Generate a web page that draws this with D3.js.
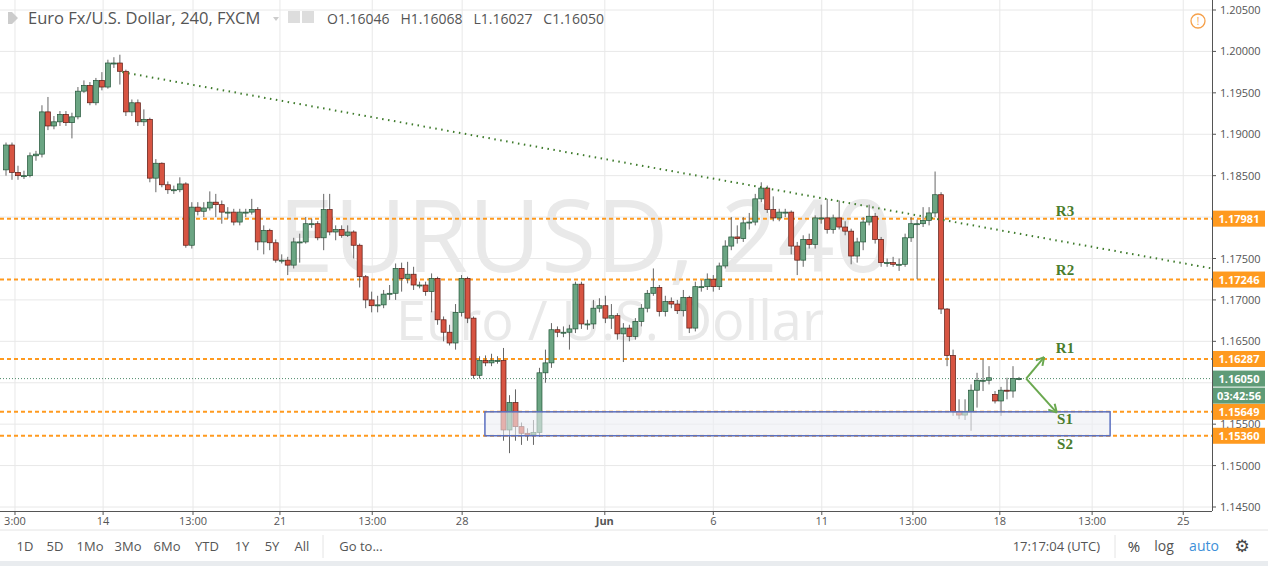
<!DOCTYPE html>
<html>
<head>
<meta charset="utf-8">
<script src="https://cdn.jsdelivr.net/npm/d3@7"></script>
<style>
  body { margin: 0; background: #fff; font-family: "Open Sans", "DejaVu Sans", sans-serif; }
  svg text { font-family: "Open Sans", "DejaVu Sans", sans-serif; }
</style>
</head>
<body>
<svg id="chart" width="1268" height="566"></svg>
<script>
/* data: candles in 1e-4 price units: [open, close, high, low] */
var candles = [
 [11857,11887,11890,11850],[11887,11854,11890,11845],[11854,11850,11862,11845],[11850,11850,11856,11846],
 [11850,11874,11878,11848],[11874,11876,11880,11868],[11876,11927,11935,11872],[11927,11910,11945,11905],
 [11910,11915,11922,11906],[11915,11924,11928,11910],[11924,11914,11928,11910],[11914,11921,11926,11895],
 [11921,11952,11957,11918],[11952,11959,11965,11950],[11959,11938,11963,11935],[11938,11965,11968,11935],
 [11965,11957,11975,11953],[11957,11986,11990,11955],[11986,11986,11993,11980],[11986,11976,11996,11960],
 [11976,11927,11978,11922],[11927,11938,11942,11922],[11938,11915,11942,11910],[11915,11918,11930,11910],
 [11918,11847,11920,11842],[11847,11865,11870,11830],[11865,11839,11866,11836],[11839,11833,11843,11828],
 [11833,11833,11838,11828],[11833,11840,11848,11830],[11840,11766,11842,11763],[11766,11812,11818,11762],
 [11812,11807,11818,11802],[11807,11811,11818,11800],[11811,11818,11831,11808],[11818,11815,11828,11800],
 [11815,11806,11820,11792],[11806,11806,11812,11798],[11806,11794,11810,11790],[11794,11806,11810,11790],
 [11806,11806,11810,11800],[11806,11809,11822,11803],[11809,11770,11812,11760],[11770,11784,11790,11755],
 [11784,11769,11786,11760],[11769,11748,11773,11745],[11748,11748,11755,11744],[11748,11742,11752,11730],
 [11742,11770,11775,11738],[11770,11770,11780,11745],[11770,11792,11800,11768],[11792,11792,11798,11787],
 [11792,11775,11795,11772],[11775,11809,11828,11760],[11809,11782,11828,11778],[11782,11785,11790,11772],
 [11785,11778,11790,11775],[11778,11782,11790,11776],[11782,11766,11784,11750],[11766,11728,11768,11715],
 [11728,11700,11730,11690],[11700,11693,11710,11685],[11693,11694,11705,11685],[11694,11707,11712,11690],
 [11707,11708,11718,11700],[11708,11738,11744,11700],[11738,11726,11745,11710],[11726,11731,11746,11720],
 [11731,11718,11740,11712],[11718,11718,11722,11714],[11718,11710,11722,11705],[11710,11726,11732,11685],
 [11726,11676,11728,11670],[11676,11661,11680,11650],[11661,11648,11670,11645],[11648,11685,11695,11640],
 [11685,11726,11730,11680],[11726,11678,11728,11672],[11678,11609,11680,11605],[11609,11627,11632,11605],
 [11627,11624,11633,11620],[11624,11627,11635,11620],[11627,11627,11632,11623],[11627,11543,11642,11530],
 [11543,11576,11585,11515],[11576,11547,11592,11530],[11547,11539,11552,11525],[11539,11537,11545,11530],
 [11537,11540,11555,11525],[11540,11612,11618,11535],[11612,11624,11640,11600],[11624,11664,11672,11618],
 [11664,11661,11668,11655],[11661,11661,11668,11655],[11661,11665,11670,11640],[11665,11719,11722,11660],
 [11719,11671,11722,11665],[11671,11671,11676,11664],[11671,11690,11700,11665],[11690,11693,11702,11685],
 [11693,11678,11705,11672],[11678,11681,11695,11665],[11681,11659,11684,11652],[11659,11666,11672,11625],
 [11666,11656,11670,11650],[11656,11674,11678,11652],[11674,11690,11695,11668],[11690,11708,11712,11685],
 [11708,11715,11738,11705],[11715,11686,11718,11680],[11686,11698,11705,11680],[11698,11695,11703,11690],
 [11695,11687,11700,11683],[11687,11703,11712,11680],[11703,11666,11705,11660],[11666,11716,11722,11662],
 [11716,11716,11724,11710],[11716,11725,11732,11712],[11725,11716,11730,11710],[11716,11741,11745,11712],
 [11741,11765,11772,11738],[11765,11776,11800,11760],[11776,11774,11790,11768],[11774,11793,11800,11770],
 [11793,11794,11805,11785],[11794,11822,11828,11790],[11822,11835,11842,11818],[11835,11809,11838,11805],
 [11809,11799,11825,11795],[11799,11806,11810,11795],[11806,11806,11810,11800],[11806,11765,11808,11755],
 [11765,11748,11770,11730],[11748,11773,11778,11740],[11773,11767,11780,11762],[11767,11799,11802,11762],
 [11799,11799,11815,11792],[11799,11785,11822,11780],[11785,11799,11803,11780],[11799,11788,11820,11785],
 [11788,11783,11795,11778],[11783,11753,11786,11743],[11753,11770,11775,11745],[11770,11794,11800,11760],
 [11794,11801,11815,11790],[11801,11773,11805,11768],[11773,11745,11776,11740],[11745,11745,11750,11740],
 [11745,11743,11752,11740],[11743,11743,11750,11735],[11743,11775,11780,11740],[11775,11792,11800,11770],
 [11792,11792,11797,11725],[11792,11796,11812,11788],[11796,11805,11812,11790],[11805,11827,11855,11800],
 [11827,11689,11830,11683],[11689,11633,11690,11620],[11633,11565,11640,11560],[11565,11561,11580,11556],
 [11561,11565,11580,11555],[11565,11591,11598,11542],[11591,11603,11612,11570],[11603,11603,11628,11590],
 [11603,11606,11620,11598],[11586,11578,11590,11575],[11578,11591,11595,11560],[11591,11590,11606,11580],
 [11590,11605,11620,11582],[11605,11605,11607,11603]
];

var priceTicks = [1.145, 1.150, 1.155, 1.160, 1.165, 1.170, 1.175, 1.180, 1.185, 1.190, 1.195, 1.200, 1.205];
var timeTicks = [[1.5,"3:00"],[16.2,"14"],[31.2,"13:00"],[45.7,"21"],[61.1,"13:00"],[76.1,"28"],[99.9,"Jun"],
                 [118,"6"],[136.1,"11"],[151.3,"13:00"],[165.8,"18"],[181.2,"13:00"],[196.4,"25"]];

var levelNames = ["R3", "R2", "R1", "S1", "S2"];
var levelValues = [1.17981, 1.17246, 1.16287, 1.15649, 1.15360];
var lastPrice = 1.16050;
var trendLine = [[19.4, 1.1975], [201.2, 1.1738]];
var zoneIdx = [79.9, 184.2];
var arrowPts = [[170.2, 1.1605], [173.2, 1.1631], [175.3, 1.1564]];

var svg = d3.select("#chart");
var plotW = 1212, plotH = 511;

var x = d3.scaleLinear().domain([0, candles.length - 1]).range([6, 1019]);
var y = d3.scaleLinear().domain([1.145, 1.205]).range([507, 10]);
var p = v => y(v / 10000);

svg.append("defs").append("clipPath").attr("id", "plot")
  .append("rect").attr("x", 0).attr("y", 0).attr("width", plotW).attr("height", plotH);

svg.append("rect").attr("x", 0).attr("y", 0).attr("width", 1268).attr("height", 566).attr("fill", "#fff");

var g = svg.append("g").attr("clip-path", "url(#plot)");

// grid
g.selectAll(".hg").data(priceTicks).join("line")
  .attr("x1", 0).attr("x2", plotW).attr("y1", d => y(d)).attr("y2", d => y(d))
  .attr("stroke", "#e8e8e8");
g.selectAll(".vg").data(timeTicks).join("line")
  .attr("x1", d => x(d[0])).attr("x2", d => x(d[0])).attr("y1", 0).attr("y2", plotH)
  .attr("stroke", "#e8e8e8");

// watermark
g.append("text").attr("x", 585).attr("y", 272).attr("text-anchor", "middle")
  .style("font-size", "100px").attr("fill", "#e9e9e9").text("EURUSD, 240");
g.append("text").attr("x", 610).attr("y", 340).attr("text-anchor", "middle")
  .style("font-size", "54px").attr("fill", "#e9e9e9").text("Euro / U.S. Dollar");

// levels
g.selectAll(".lvl").data(levelValues).join("line")
  .attr("x1", 0).attr("x2", plotW).attr("y1", d => y(d)).attr("y2", d => y(d))
  .attr("stroke", "#ff9a1f").attr("stroke-width", 2).attr("stroke-dasharray", "4,3");

// last price line
g.append("line").attr("x1", 0).attr("x2", plotW).attr("y1", y(lastPrice)).attr("y2", y(lastPrice))
  .attr("stroke", "#4f8a6a").attr("stroke-dasharray", "1,2");

// candles
var c = g.selectAll(".c").data(candles).join("g");
c.append("line")
  .attr("x1", (d, i) => x(i)).attr("x2", (d, i) => x(i))
  .attr("y1", d => p(d[2])).attr("y2", d => p(d[3]))
  .attr("stroke", "#666");
c.append("rect")
  .attr("x", (d, i) => x(i) - 2.5).attr("width", 5)
  .attr("y", d => p(Math.max(d[0], d[1])))
  .attr("height", d => Math.max(1, Math.abs(p(d[0]) - p(d[1]))))
  .attr("fill", d => d[1] >= d[0] ? "#6ba583" : "#d75442")
  .attr("stroke", d => d[1] >= d[0] ? "#225437" : "#5b1a13").attr("stroke-width", 0.7);

// trend line
g.append("line")
  .attr("x1", x(trendLine[0][0])).attr("y1", y(trendLine[0][1]))
  .attr("x2", x(trendLine[1][0])).attr("y2", y(trendLine[1][1]))
  .attr("stroke", "#3d7a2a").attr("stroke-width", 2).attr("stroke-dasharray", "1.5,4.5");

// support zone
g.append("rect")
  .attr("x", x(zoneIdx[0])).attr("width", x(zoneIdx[1]) - x(zoneIdx[0]))
  .attr("y", y(levelValues[3])).attr("height", y(levelValues[4]) - y(levelValues[3]))
  .attr("fill", "rgba(236,238,244,0.6)").attr("stroke", "#5a6fc0").attr("stroke-width", 1.5);

// arrows
var ac = "#6aa84f";
[arrowPts[1], arrowPts[2]].forEach(function(t) {
  var x0 = x(arrowPts[0][0]), y0 = y(arrowPts[0][1]), x1 = x(t[0]), y1 = y(t[1]);
  g.append("line").attr("x1", x0).attr("y1", y0).attr("x2", x1).attr("y2", y1)
    .attr("stroke", ac).attr("stroke-width", 2);
  var a = Math.atan2(y1 - y0, x1 - x0);
  [-0.5, 0.5].forEach(function(da) {
    g.append("line").attr("x1", x1).attr("y1", y1)
      .attr("x2", x1 - 9 * Math.cos(a + da)).attr("y2", y1 - 9 * Math.sin(a + da))
      .attr("stroke", ac).attr("stroke-width", 2);
  });
});

// level labels
var labelY = [211, 270, 348, 419, 444];
levelNames.forEach(function(n, i) {
  g.append("text").attr("x", 1065).attr("y", labelY[i] + 5).attr("text-anchor", "middle")
    .style("font-family", "'Liberation Serif', serif").style("font-weight", "bold")
    .style("font-size", "15px").attr("fill", "#4a7d2c").text(n);
});

// right axis
svg.append("line").attr("x1", plotW + 0.5).attr("x2", plotW + 0.5).attr("y1", 0).attr("y2", plotH)
  .attr("stroke", "#555");
svg.selectAll(".pt").data(priceTicks).join("g").each(function(d) {
  var s = d3.select(this);
  s.append("line").attr("x1", plotW).attr("x2", plotW + 4).attr("y1", y(d)).attr("y2", y(d)).attr("stroke", "#555");
  if (d === 1.160) return; // hidden behind the last price tag
  s.append("text").attr("x", 1220).attr("y", y(d) + 4).style("font-size", "11px").attr("fill", "#555")
    .text(d.toFixed(5));
});
function tag(v, txt, fill, dy) {
  svg.append("rect").attr("x", 1213).attr("y", y(v) - 8 + (dy || 0)).attr("width", 52).attr("height", 16).attr("fill", fill);
  svg.append("text").attr("x", 1239).attr("y", y(v) + 4 + (dy || 0)).attr("text-anchor", "middle")
    .style("font-size", "11px").style("font-weight", "bold").attr("fill", "#fff").text(txt);
}
levelValues.forEach(v => tag(v, v.toFixed(5), "#ff9a1f"));
tag(lastPrice, lastPrice.toFixed(5), "#5f9b77");
tag(lastPrice, "03:42:56", "#5f9b77", 17);

// time axis
svg.append("line").attr("x1", 0).attr("x2", plotW).attr("y1", plotH + 0.5).attr("y2", plotH + 0.5).attr("stroke", "#555");
svg.selectAll(".tt").data(timeTicks).join("g").each(function(d) {
  var s = d3.select(this);
  s.append("line").attr("x1", x(d[0])).attr("x2", x(d[0])).attr("y1", plotH).attr("y2", plotH + 4).attr("stroke", "#555");
  s.append("text").attr("x", x(d[0])).attr("y", plotH + 14).attr("text-anchor", "middle")
    .style("font-size", "11px").style("font-weight", d[1] === "Jun" ? "bold" : "normal").attr("fill", "#555").text(d[1]);
});

// toolbar
svg.append("line").attr("x1", 0).attr("x2", 1268).attr("y1", 530).attr("y2", 530).attr("stroke", "#e4e4e4");
svg.append("rect").attr("x", 0).attr("y", 561).attr("width", 1268).attr("height", 5).attr("fill", "#e9ecef");
var tb = [["1D", 25], ["5D", 55], ["1Mo", 90], ["3Mo", 128], ["6Mo", 167], ["YTD", 207], ["1Y", 242], ["5Y", 272], ["All", 302], ["Go to...", 361]];
tb.forEach(function(t) {
  svg.append("text").attr("x", t[1]).attr("y", 551).attr("text-anchor", "middle")
    .style("font-size", "13px").attr("fill", "#555").text(t[0]);
});
svg.append("line").attr("x1", 323).attr("x2", 323).attr("y1", 535).attr("y2", 558).attr("stroke", "#e4e4e4");
svg.append("text").attr("x", 1100).attr("y", 551).attr("text-anchor", "end").style("font-size", "13px").attr("fill", "#555").text("17:17:04 (UTC)");
svg.append("line").attr("x1", 1115).attr("x2", 1115).attr("y1", 535).attr("y2", 558).attr("stroke", "#e4e4e4");
svg.append("text").attr("x", 1134).attr("y", 552).attr("text-anchor", "middle").style("font-size", "15px").attr("fill", "#444").text("%");
svg.append("text").attr("x", 1164).attr("y", 551).attr("text-anchor", "middle").style("font-size", "14px").attr("fill", "#555").text("log");
svg.append("text").attr("x", 1204).attr("y", 551).attr("text-anchor", "middle").style("font-size", "14px").attr("fill", "#3d8fd8").text("auto");
svg.append("text").attr("x", 1242).attr("y", 552).attr("text-anchor", "middle").style("font-size", "17px").attr("fill", "#444").text("⚙");

// header
svg.append("path").attr("d", "M8,12 h4 v12 h-4z M12,12 l6,6 l-6,6z").attr("fill", "#ccc");
svg.append("text").attr("x", 28).attr("y", 24).style("font-size", "16.5px").attr("fill", "#555")
  .text("Euro Fx/U.S. Dollar, 240, FXCM");
svg.append("path").attr("d", "M273,17 l3,4 l3,-4z").attr("fill", "#ccc");
svg.append("rect").attr("x", 288).attr("y", 11).attr("width", 12).attr("height", 12).attr("fill", "#ddd");
svg.append("rect").attr("x", 302).attr("y", 11).attr("width", 12).attr("height", 12).attr("fill", "#ddd");
svg.append("text").attr("x", 327).attr("y", 24).style("font-size", "14px").attr("fill", "#555")
  .text("O1.16046   H1.16068   L1.16027   C1.16050").attr("xml:space", "preserve");
svg.append("circle").attr("cx", 1198).attr("cy", 21).attr("r", 7).attr("fill", "none").attr("stroke", "#f5a04a").attr("stroke-width", 1.3);
svg.append("text").attr("x", 1198).attr("y", 25).attr("text-anchor", "middle").style("font-size", "10px").attr("fill", "#f5a04a").text("!");
</script>
</body>
</html>
